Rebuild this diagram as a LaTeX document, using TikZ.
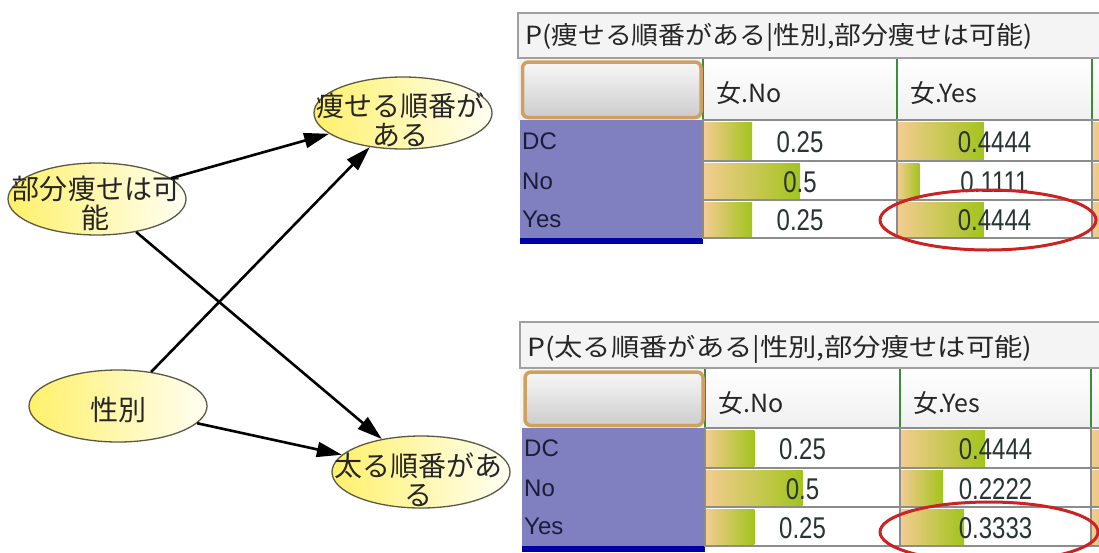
\documentclass[tikz,border=0pt]{standalone}
\usepackage{fontspec}
\usepackage{graphicx}
\setmainfont{Liberation Sans}
\newfontfamily\jp{Noto Sans CJK JP}
\usetikzlibrary{shapes.geometric,arrows.meta}
\definecolor{ellY}{HTML}{FFF06A}
\definecolor{ellW}{HTML}{FFFFF4}
\definecolor{ellB}{HTML}{5A5A44}
\definecolor{purp}{HTML}{8080C0}
\definecolor{bluebar}{HTML}{0000A8}
\definecolor{hgreen}{HTML}{3C8C3C}
\definecolor{cellgray}{HTML}{8C8C8C}
\definecolor{titlefill}{HTML}{F4F4F4}
\definecolor{titlegray}{HTML}{A0A0A0}
\definecolor{btnor}{HTML}{D0A060}
\definecolor{barl}{HTML}{F2CC90}
\definecolor{barr}{HTML}{A2C41C}
\definecolor{ringred}{HTML}{CC2222}
\definecolor{numcol}{HTML}{2A3434}
\definecolor{labcol}{HTML}{1C1C3A}
\newcommand{\dcell}[7]{%
  \fill[white] (#2,#3) rectangle (#4,#5);
  \shade[left color=barl,right color=barr] ({#2+1},{#3+2}) rectangle ({#2+1+#6*(#4-#2-2)},{#5-2});
  \draw[cellb] (#2,#3) rectangle (#4,#5);
  \node[numt] (#1) at ({(#2+#4)/2},{(#3+#5)/2+1.5}) {\scalebox{0.8}[1]{#7}};
}
\begin{document}
\begin{tikzpicture}[x=1pt,y=-1pt,
  ell/.style={ellipse,draw=ellB,line width=1.3pt,left color=ellY,right color=ellW,
    minimum width=178pt,minimum height=72pt,inner sep=0pt},
  lab/.style={font=\jp\fontsize{28}{29}\selectfont,align=center,inner sep=0pt,text=black!85},
  arr/.style={line width=2.6pt,-{Triangle[length=25pt,width=15pt]}},
  cellb/.style={draw=cellgray,line width=1.4pt},
  numt/.style={font=\fontsize{30}{30}\selectfont,inner sep=0pt,text=numcol},
  titlebox/.style={draw=titlegray,line width=1.6pt,fill=titlefill},
  titlet/.style={font=\jp\fontsize{25}{25}\selectfont,inner sep=0pt,anchor=west,text=black!85},
  hdr/.style={draw=hgreen,line width=2pt,top color=white,bottom color=black!6},
  hdrt/.style={font=\jp\fontsize{25}{25}\selectfont,inner sep=0pt,anchor=west,text=black!85},
  btn/.style={draw=btnor,line width=3.5pt,rounded corners=6pt,top color=black!3,bottom color=black!20},
  rowt/.style={font=\fontsize{24}{24}\selectfont,inner sep=0pt,anchor=west,text=labcol},
  ring/.style={draw=ringred,line width=3pt}]
\useasboundingbox (0,0) rectangle (1099,552);
\clip (0,0) rectangle (1099,552);
\fill[white] (0,0) rectangle (1099,552);

% ---------- Table 1 ----------
\fill[black!4] (518,58) rectangle (1110,120);
\draw[hdr] (703,58) rectangle (897,120);
\draw[hdr] (897,58) rectangle (1092,120);
\draw[hdr] (1092,58) rectangle (1300,120);
\draw[titlebox] (518,13) rectangle (1110,58);
\node[titlet] (t1title) at (525,37) {\resizebox{507pt}{\height}{P(痩せる順番がある|性別,部分痩せは可能)}};
\draw[btn] (522.5,62) rectangle (701,117.5);
\node[hdrt] (t1h1) at (716,93) {女.No};
\node[hdrt] (t1h2) at (910,93) {女.Yes};
\fill[purp] (520,120) rectangle (703,238);
\fill[bluebar] (520,238) rectangle (703,244);
\node[rowt] (t1r1) at (522,141) {DC};
\node[rowt] (t1r2) at (522,181) {No};
\node[rowt] (t1r3) at (522,219) {Yes};
\dcell{t1a1}{703}{120}{897}{161}{0.25}{0.25}
\dcell{t1a2}{703}{161}{897}{200}{0.5}{0.5}
\dcell{t1a3}{703}{200}{897}{238}{0.25}{0.25}
\dcell{t1b1}{897}{120}{1092}{161}{0.4444}{0.4444}
\dcell{t1b2}{897}{161}{1092}{200}{0.1111}{0.1111}
\dcell{t1b3}{897}{200}{1092}{238}{0.4444}{0.4444}
\fill[white] (1092,120) rectangle (1300,238);
\shade[left color=barl,right color=barr] (1093,122) rectangle (1140,159);
\shade[left color=barl,right color=barr] (1093,163) rectangle (1140,198);
\shade[left color=barl,right color=barr] (1093,202) rectangle (1140,236);
\draw[cellb] (1092,120) rectangle (1300,161) (1092,161) rectangle (1300,200) (1092,200) rectangle (1300,238);
\draw[ring] (988,220) ellipse [x radius=108, y radius=30];

% ---------- Table 2 ----------
\fill[black!4] (520,368) rectangle (1110,428);
\draw[hdr] (705,368) rectangle (900,428);
\draw[hdr] (900,368) rectangle (1091,428);
\draw[hdr] (1091,368) rectangle (1300,428);
\draw[titlebox] (520,322) rectangle (1110,368);
\node[titlet] (t2title) at (527,349) {\resizebox{505pt}{\height}{P(太る順番がある|性別,部分痩せは可能)}};
\draw[btn] (525,372) rectangle (703,425.5);
\node[hdrt] (t2h1) at (718,403) {女.No};
\node[hdrt] (t2h2) at (913,403) {女.Yes};
\fill[purp] (522,428) rectangle (705,546);
\fill[bluebar] (522,546) rectangle (705,552);
\node[rowt] (t2r1) at (524,448) {DC};
\node[rowt] (t2r2) at (524,488) {No};
\node[rowt] (t2r3) at (524,526) {Yes};
\dcell{t2a1}{705}{428}{900}{468}{0.25}{0.25}
\dcell{t2a2}{705}{468}{900}{507}{0.5}{0.5}
\dcell{t2a3}{705}{507}{900}{546}{0.25}{0.25}
\dcell{t2b1}{900}{428}{1091}{468}{0.4444}{0.4444}
\dcell{t2b2}{900}{468}{1091}{507}{0.2222}{0.2222}
\dcell{t2b3}{900}{507}{1091}{546}{0.3333}{0.3333}
\fill[white] (1091,428) rectangle (1300,546);
\shade[left color=barl,right color=barr] (1092,430) rectangle (1140,466);
\shade[left color=barl,right color=barr] (1092,470) rectangle (1140,505);
\shade[left color=barl,right color=barr] (1092,509) rectangle (1140,544);
\draw[cellb] (1091,428) rectangle (1300,468) (1091,468) rectangle (1300,507) (1091,507) rectangle (1300,546);
\draw[ring] (989,532) ellipse [x radius=109, y radius=30];

% ---------- Graph ----------
\node[ell] (A) at (97,199) {};
\node[ell] (B) at (403,113) {};
\node[ell] (C) at (118,406) {};
\node[ell] (D) at (421,472) {};
\node[lab] (At) at (96,203) {部分痩せは可\\能};
\node[lab] (Bt) at (400,120) {痩せる順番が\\ある};
\node[lab] (Ct) at (118,410) {性別};
\node[lab] (Dt) at (418,480) {太る順番があ\\る};
\draw[arr] (A) -- (B);
\draw[arr] (C) -- (B);
\draw[arr] (A) -- (D);
\draw[arr] (C) -- (D);
\end{tikzpicture}
\end{document}
